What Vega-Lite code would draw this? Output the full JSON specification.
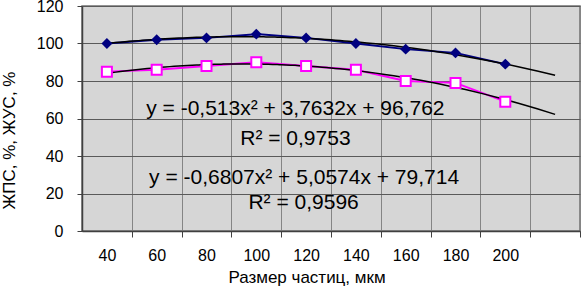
{
  "$schema": "https://vega.github.io/schema/vega-lite/v6.json",
  "width": 498,
  "height": 225,
  "autosize": "none",
  "padding": {"left": 82, "top": 6, "right": 1, "bottom": 55},
  "background": "white",
  "config": {
    "font": "Liberation Sans",
    "view": {"fill": "#d6d6d6", "stroke": "#707070", "strokeWidth": 1.5}
  },
  "datasets": {
    "pts": [
      {"size": 40, "series": "ЖПС", "value": 100},
      {"size": 60, "series": "ЖПС", "value": 102},
      {"size": 80, "series": "ЖПС", "value": 103},
      {"size": 100, "series": "ЖПС", "value": 105},
      {"size": 120, "series": "ЖПС", "value": 103},
      {"size": 140, "series": "ЖПС", "value": 100},
      {"size": 160, "series": "ЖПС", "value": 97},
      {"size": 180, "series": "ЖПС", "value": 95},
      {"size": 200, "series": "ЖПС", "value": 89},
      {"size": 40, "series": "ЖУС", "value": 85},
      {"size": 60, "series": "ЖУС", "value": 86},
      {"size": 80, "series": "ЖУС", "value": 88},
      {"size": 100, "series": "ЖУС", "value": 90},
      {"size": 120, "series": "ЖУС", "value": 88},
      {"size": 140, "series": "ЖУС", "value": 86},
      {"size": 160, "series": "ЖУС", "value": 80},
      {"size": 180, "series": "ЖУС", "value": 79},
      {"size": 200, "series": "ЖУС", "value": 69}
    ],
    "notes": [
      {"x": 115.7, "y": 65, "label": "y = -0,513x² + 3,7632x + 96,762"},
      {"x": 115.7, "y": 49, "label": "R² = 0,9753"},
      {"x": 119.2, "y": 28.5, "label": "y = -0,6807x² + 5,0574x + 79,714"},
      {"x": 119, "y": 15.2, "label": "R² = 0,9596"}
    ]
  },
  "encoding": {
    "x": {
      "field": "size", "type": "quantitative",
      "scale": {"domain": [30, 230], "nice": false, "zero": false},
      "axis": {
        "values": [40, 60, 80, 100, 120, 140, 160, 180, 200, 220],
        "tickOffset": 24.9, "labelOffset": -24.9,
        "labelExpr": "datum.value <= 200 ? datum.label : ''",
        "grid": true, "gridColor": "#858585", "gridWidth": 1, "gridOpacity": 1,
        "tickColor": "#404040", "tickSize": 6,
        "domainColor": "#404040", "domainWidth": 1.5,
        "labelFontSize": 16, "labelColor": "black", "labelPadding": 10,
        "title": "Размер частиц, мкм", "titleFontSize": 17, "titleFontWeight": "normal",
        "titleColor": "black", "titleX": 224.5, "titleY": 51, "titleBaseline": "alphabetic"
      }
    },
    "y": {
      "field": "value", "type": "quantitative",
      "scale": {"domain": [0, 120], "nice": false},
      "axis": {
        "values": [0, 20, 40, 60, 80, 100, 120],
        "grid": true, "gridColor": "#5a5a5a", "gridWidth": 1, "gridOpacity": 1,
        "tickColor": "#404040", "tickSize": 5,
        "domainColor": "#404040", "domainWidth": 1.5,
        "labelFontSize": 16, "labelColor": "black", "labelPadding": 14,
        "title": "ЖПС, %, ЖУС, %", "titleFontSize": 17, "titleFontWeight": "normal",
        "titleColor": "black", "titleX": -73, "titleY": 134, "titleBaseline": "middle", "titleAngle": -90
      }
    }
  },
  "layer": [
    {
      "data": {"name": "pts"},
      "mark": {"type": "line", "strokeWidth": 2},
      "encoding": {
        "color": {"field": "series", "type": "nominal", "scale": {"domain": ["ЖПС", "ЖУС"], "range": ["#000080", "#ff00ff"]}, "legend": null}
      }
    },
    {
      "data": {"name": "pts"},
      "transform": [
        {"regression": "value", "on": "size", "groupby": ["series"], "method": "poly", "order": 2, "extent": [40, 220]}
      ],
      "mark": {"type": "line", "color": "black", "strokeWidth": 1.5},
      "encoding": {
        "detail": {"field": "series", "type": "nominal"}
      }
    },
    {
      "data": {"name": "pts"},
      "transform": [{"filter": "datum.series === 'ЖПС'"}],
      "mark": {"type": "point", "shape": "diamond", "filled": true, "size": 120, "color": "#000080", "opacity": 1},
      "encoding": {}
    },
    {
      "data": {"name": "pts"},
      "transform": [{"filter": "datum.series === 'ЖУС'"}],
      "mark": {"type": "point", "shape": "square", "filled": true, "size": 100, "fill": "white", "stroke": "#ff00ff", "strokeWidth": 2, "opacity": 1},
      "encoding": {}
    },
    {
      "data": {"name": "notes"},
      "mark": {"type": "text", "fontSize": 21, "color": "black", "align": "center", "baseline": "middle"},
      "encoding": {
        "x": {"field": "x", "type": "quantitative"},
        "y": {"field": "y", "type": "quantitative"},
        "text": {"field": "label"}
      }
    }
  ]
}
